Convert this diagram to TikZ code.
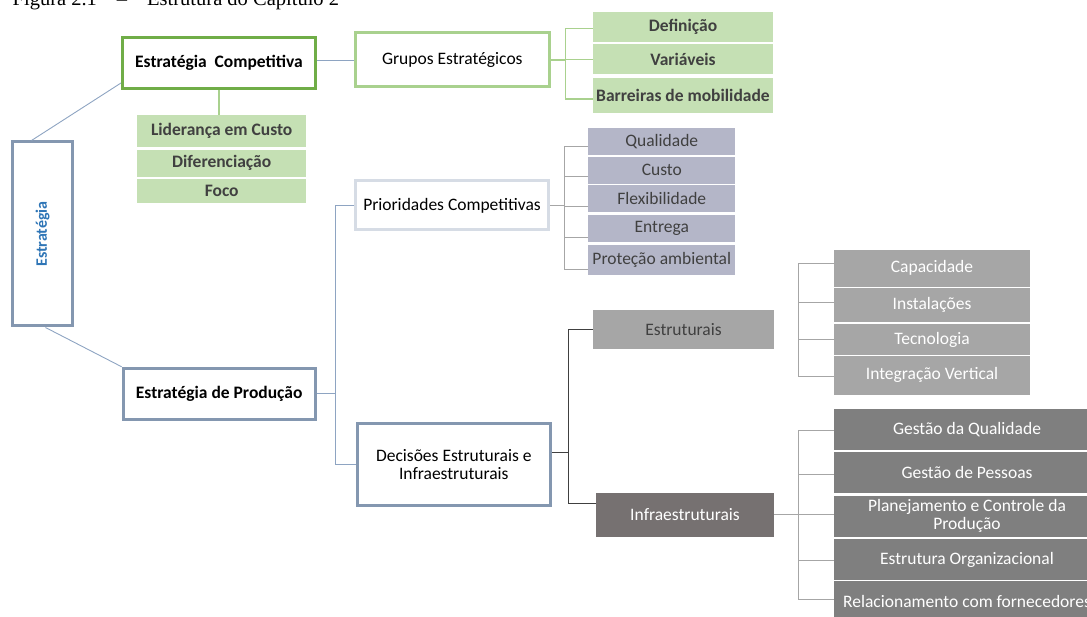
\documentclass[tikz,border=0pt]{standalone}
\usepackage{fontspec}
\setmainfont{Carlito}
\newfontfamily\titlefont{Liberation Serif}
\usetikzlibrary{calc}

\definecolor{bluegray}{HTML}{8497B0}
\definecolor{linkblue}{HTML}{8EA4C2}
\definecolor{darkgreen}{HTML}{70AD47}
\definecolor{lightgreen}{HTML}{A9D18E}
\definecolor{greenfill}{HTML}{C5E0B4}
\definecolor{paleblue}{HTML}{D6DCE5}
\definecolor{lavender}{HTML}{B4B6C8}
\definecolor{midgray}{HTML}{A6A6A6}
\definecolor{taupe}{HTML}{767171}
\definecolor{stonegray}{HTML}{7F7F7F}
\definecolor{textgray}{HTML}{404040}
\definecolor{titleblue}{HTML}{2E75B6}

\newcommand\boxfont{\fontsize{17.5}{17.5}\selectfont}

\begin{document}
\begin{tikzpicture}[x=1pt, y=-1pt,
    every node/.style={inner sep=0.5pt, align=center, font=\boxfont},
    mainbox/.style={draw=bluegray, line width=3pt, fill=white},
    compbox/.style={draw=darkgreen, line width=3pt, fill=white},
    grupbox/.style={draw=lightgreen, line width=3pt, fill=white},
    priobox/.style={draw=paleblue, line width=3pt, fill=white},
    greenitem/.style={fill=greenfill, text=textgray, font=\boxfont\bfseries},
    prioitem/.style={fill=lavender, text=textgray, minimum width=147},
    estritem/.style={fill=midgray, text=white, minimum width=196},
    infraitem/.style={fill=stonegray, text=white, minimum width=266},
    bluelink/.style={draw=linkblue, line width=0.9pt},
    greenlink/.style={draw=lightgreen, line width=1.2pt},
    graylink/.style={draw=midgray, line width=1pt},
    darklink/.style={draw=textgray, line width=1pt}]

    \useasboundingbox (0,0) rectangle (1087,617);

    % Caption (cut off at the top of the page)
    \node[anchor=base west, font=\titlefont\fontsize{20.5}{22}\selectfont] (caption) at (12,6)
        {Figura 2.1\hspace{20pt}–\hspace{20pt}Estrutura do Capítulo 2};

    % Root and the two strategy levels
    \node[mainbox, rotate=90, minimum width=184, minimum height=60, text=titleblue,
          font=\fontsize{16}{16}\selectfont\bfseries] (estr) at (42.5,234) {Estratégia};
    \node[compbox, minimum width=193, minimum height=51, font=\boxfont\bfseries] (comp) at (219,63) {Estratégia\ \ Competitiva};
    \node[mainbox, minimum width=192, minimum height=51, font=\boxfont\bfseries] (prod) at (219.2,393.8) {Estratégia de Produção};

    % Second level boxes
    \node[grupbox, minimum width=194, minimum height=54] (grupos) at (452.3,60) {Grupos Estratégicos};
    \node[priobox, minimum width=193, minimum height=49] (prior) at (452,205.5) {Prioridades Competitivas};
    \node[mainbox, minimum width=193, minimum height=82] (dec) at (453.8,464.7) {Decisões Estruturais e\\Infraestruturais};

    % Generic strategies
    \foreach \n/\y/\h/\txt in {lid/130.8/31.7/Liderança em Custo, dif/163.3/26.7/Diferenciação, foco/191.3/24/Foco}
        \node[greenitem, minimum width=168.7, minimum height=\h] (\n) at (221.7,\y) {\txt};

    % Strategic groups items
    \foreach \n/\y/\h/\txt in {def/26.7/30/Definição, var/59.2/29.7/Variáveis, barr/95.8/35/Barreiras de mobilidade}
        \node[greenitem, minimum width=180.6, minimum height=\h] (\n) at (683,\y) {\txt};

    % Competitive priorities
    \foreach \n/\y/\h/\txt in {qual/141.3/26.7/Qualidade, custo/170.3/26.7/Custo, flex/198.5/26.3/Flexibilidade,
                               entrega/228.5/26.3/Entrega, prot/259.8/29.7/Proteção ambiental}
        \node[prioitem, minimum height=\h] (\n) at (661.8,\y) {\txt};

    % Structural and infrastructural decisions
    \node[fill=midgray, text=textgray, minimum width=181, minimum height=38.7] (estrut) at (683.5,329.3) {Estruturais};
    \node[fill=taupe, text=white, minimum width=178, minimum height=43.7] (infra) at (685,514.8) {Infraestruturais};

    \foreach \n/\y/\h/\txt in {cap/268.3/36.7/Capacidade, inst/305/33.4/Instalações, tec/339.5/31/Tecnologia,
                               integ/375.3/38.7/Integração Vertical}
        \node[estritem, minimum height=\h] (\n) at (932,\y) {\txt};

    \foreach \n/\y/\txt in {gq/429.5/Gestão da Qualidade, gp/472.8/Gestão de Pessoas,
                            pcp/516/{Planejamento e Controle da\\Produção}, eo/559.5/Estrutura Organizacional,
                            rel/601.7/Relacionamento com fornecedores}
        \node[infraitem, minimum height=41] (\n) at (967,\y) {\txt};

    % Links from the root
    \draw[bluelink] ([xshift=-11pt]estr.east) -- ([yshift=7pt]comp.south west);
    \draw[bluelink] ([xshift=3pt]estr.west) -- (prod.north west);
    \draw[bluelink] (grupos.west) -- (grupos.west -| comp.east);
    \draw[greenlink] (comp.south) -- (comp.south |- lid.north);

    % Grupos bracket
    \draw[greenlink] (grupos.east) -- ++(15,0) coordinate (gj);
    \foreach \n/\s in {def/-1.6, var/0, barr/-3.2}
        \draw[greenlink] ([yshift=\s pt]\n.west) -| (gj);

    % Producao bracket
    \draw[bluelink] (prod.east) -- ++(19,0) coordinate (pj);
    \draw[bluelink] (prior.west) -| (pj);
    \draw[bluelink] (dec.west) -| (pj);

    % Prioridades bracket
    \draw[graylink] (prior.east) -- ++(14,0) coordinate (qj);
    \foreach \n/\s in {qual/-5.4, custo/-6.4, flex/-8.2, entrega/-9.2, prot/-9.5}
        \draw[graylink] ([yshift=\s pt]\n.west) -| (qj);

    % Decisoes bracket
    \draw[darklink] ([yshift=12.7pt]dec.east) -- ++(17,0) coordinate (dj);
    \draw[darklink] (estrut.west) -| (dj);
    \draw[darklink] ([yshift=11.5pt]infra.west) -| (dj);

    % Estruturais items bracket (not linked to its box)
    \coordinate (ej) at (798.3,320);
    \foreach \n/\s in {cap/4.3, inst/2.7, tec/0, integ/-1.4}
        \draw[graylink] ([yshift=\s pt]\n.west) -| (ej);

    % Infraestruturais bracket
    \draw[graylink] (infra.east) -- ++(24.7,0) coordinate (ij);
    \foreach \n/\s in {gq/-1.2, gp/-1.2, pcp/1.3, eo/-0.5, rel/2.7}
        \draw[graylink] ([yshift=\s pt]\n.west) -| (ij);

\end{tikzpicture}
\end{document}
